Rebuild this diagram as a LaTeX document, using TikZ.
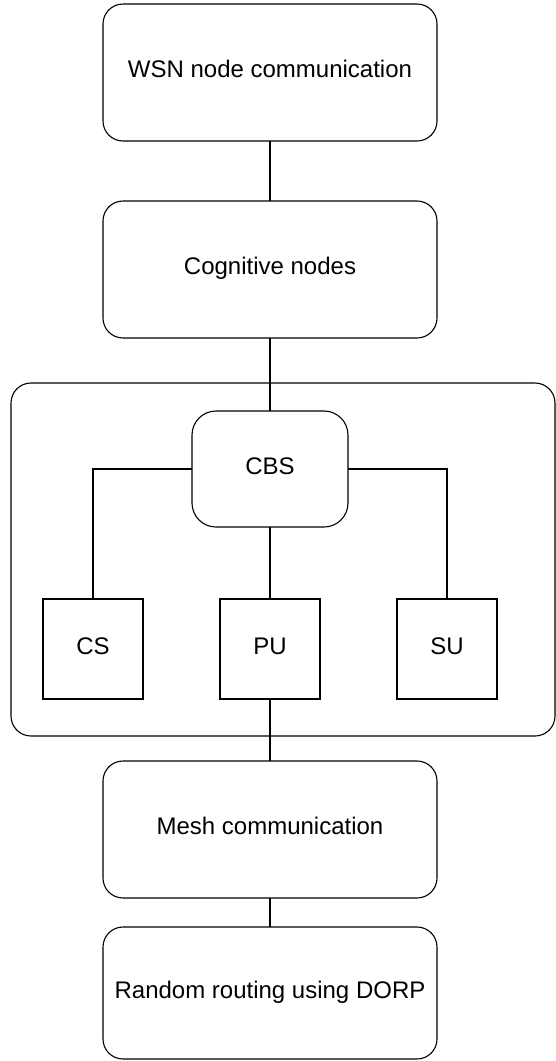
\documentclass[tikz,border=0pt]{standalone}
\usepackage{fontspec}
\setmainfont{Liberation Sans}
\usepackage{tikz}
\usetikzlibrary{positioning}
\tikzstyle{stage} = [draw,line width=0.55pt,rectangle,rounded corners=10pt,minimum width=167pt,minimum height=68.5pt,inner sep=0,outer sep=0,text height=9pt,text depth=4pt,font=\fontsize{12}{14}\selectfont]
\tikzstyle{hub} = [draw,line width=0.55pt,rectangle,rounded corners=12pt,minimum width=78pt,minimum height=58pt,inner sep=0,outer sep=0,text height=9pt,text depth=4pt,font=\fontsize{12}{14}\selectfont]
\tikzstyle{unitbox} = [draw,line width=0.55pt,rectangle,minimum size=50pt,inner sep=0,outer sep=0,text height=9pt,text depth=4pt,font=\fontsize{12}{14}\selectfont]
\tikzstyle{panel} = [draw,line width=0.55pt,rectangle,rounded corners=10pt,minimum width=272pt,minimum height=176.5pt,inner sep=0,outer sep=0]
\tikzstyle{link} = [-,line width=0.55pt]
\def \gap {12.5pt}

\begin{document}
\begin{tikzpicture}
      \useasboundingbox (0,0) rectangle (278pt,-530.5pt);
      \node[stage] (wsn) at (135pt,-36.25pt) {WSN node communication};
      \node[stage,below=30pt of wsn] (cog) {Cognitive nodes};
      \node[hub,below=36.5pt of cog] (cbs) {CBS};
      \node[unitbox,below=36pt of cbs] (pu) {PU};
      \node[unitbox,left=38.5pt of pu] (cs) {CS};
      \node[unitbox,right=38.5pt of pu] (su) {SU};
      \node[panel] (grp) at (141.5pt,-279.75pt) {};
      \node[stage,anchor=north] (mesh) at ([yshift=-\gap]grp.south -| wsn) {Mesh communication};
      \node[stage,below=14.5pt of mesh,minimum height=66pt] (dorp) {Random routing using DORP};
      \draw[link] (wsn) -- (cog);
      \draw[link] (cog) -- (cbs);
      \draw[link] (cbs.west) -| (cs.north);
      \draw[link] (cbs.east) -| (su.north);
      \draw[link] (cbs) -- (pu);
      \draw[link] (pu) -- (mesh);
      \draw[link] (mesh) -- (dorp);
    \end{tikzpicture}
\end{document}
